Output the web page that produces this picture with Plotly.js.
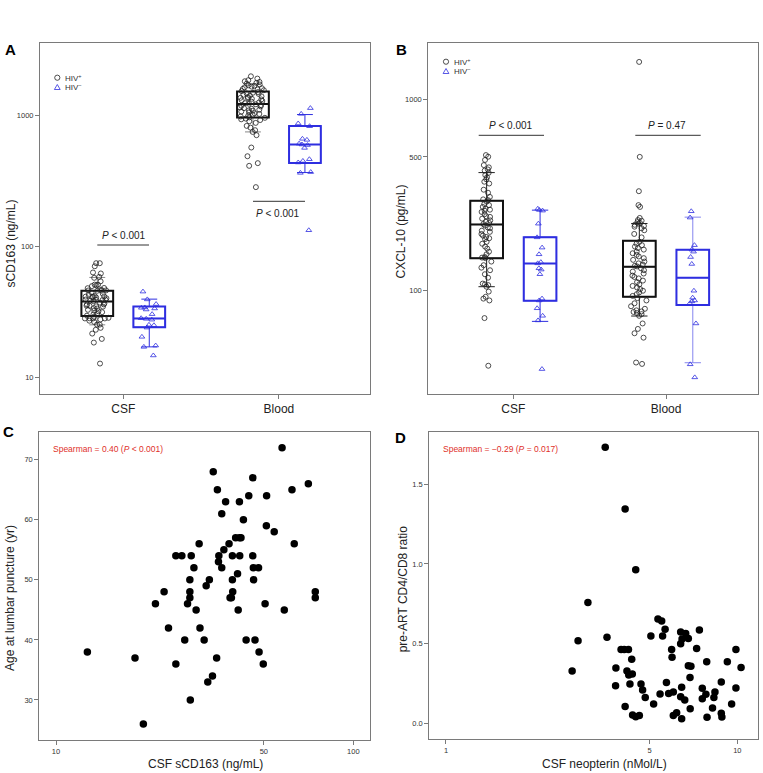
<!DOCTYPE html>
<html><head><meta charset="utf-8">
<script src="https://cdn.plot.ly/plotly-3.0.1.min.js"></script>
<style>body{margin:0;background:#fff}#chart{width:763px;height:773px}</style>
</head><body><div id="chart"></div>
<script>
// ---------- categories ----------
const groups = ['CSF', 'Blood'];

// ---------- Panel C / A: CSF sCD163 (HIV+) and age at lumbar puncture ----------
const csfSCD163 = [12.75, 18.44, 19.67, 21.6, 23.1, 23.9, 25.3, 25.3, 26.5, 27.1, 27.7, 28.2, 28.2, 28.2, 28.3, 28.5, 29.1, 29.6, 30.3, 30.5, 31.5, 32.0, 32.4, 32.8, 33.6, 33.8, 34.7, 34.9, 35.2, 35.3, 36.1, 36.1, 36.7, 37.2, 38.2, 38.5, 38.9, 39.2, 39.2, 39.3, 40.2, 40.8, 41.0, 41.4, 41.4, 41.5, 41.9, 42.7, 43.6, 44.5, 45.9, 45.9, 46.1, 46.2, 46.7, 48.0, 48.2, 49.8, 50.5, 51.0, 51.1, 54.2, 57.6, 58.6, 62.2, 63.3, 70.6, 74.5, 74.5];
const ageAtLP = [38, 37, 26, 46, 48, 42, 36, 54, 54, 40, 46, 50, 48, 47, 30, 54, 52, 45, 56, 42, 40, 49, 33, 50, 34, 68, 37, 65, 53, 54, 52, 61, 55, 63, 56, 47, 47, 54, 50, 48, 57, 51, 45, 63, 57, 54, 57, 60, 40, 64, 67, 54, 52, 50, 40, 52, 38, 36, 46, 59, 64, 58, 72, 45, 65, 56, 66, 48, 47];

// ---------- Panel A: sCD163 (ng/mL) ----------
const aCsfPos = csfSCD163;
const aBloodPos = [1995, 1916, 1862, 1828, 1806, 1776, 1752, 1728, 1704, 1688, 1665, 1642, 1618, 1598, 1584, 1561, 1538,
  1512, 1494, 1476, 1463, 1441, 1418, 1402, 1384, 1366, 1358, 1343, 1327, 1309, 1292, 1276, 1259, 1244, 1231,
  1219, 1202, 1188, 1174, 1153, 1139, 1126, 1108, 1097, 1090, 1073, 1058, 1042, 1029, 1013, 998, 984, 969,
  961, 948, 936, 924, 905, 879, 834, 809, 773, 750, 708, 570, 489, 433, 413, 284];
const aCsfNeg = [45.2, 39.4, 36.3, 34.2, 34.0, 33.6, 33.0, 30.4, 28.3, 28.0, 27.6, 25.2, 25.0, 24.0, 20.4, 17.5, 17.1, 14.7];
const aBloodNeg = [1140, 1030, 870, 829, 664, 652, 610, 601, 595, 566, 464, 450, 438, 370, 365, 133];
// box statistics [CSF, Blood]
const aPosQ1 = [29.4, 965], aPosMed = [38.0, 1228], aPosQ3 = [45.9, 1525], aPosLo = [25.2, 750], aPosHi = [58.0, 1745];
const aNegQ1 = [24.2, 435], aNegMed = [28.2, 601], aNegQ3 = [34.8, 834], aNegLo = [17.1, 367], aNegHi = [39.6, 1018];

// ---------- Panel B: CXCL-10 (pg/mL) ----------
const bCsfPos = [511, 501, 482, 453, 441, 430, 424, 413, 402, 391, 382, 371, 363, 337, 325, 309, 300,
  297, 292, 284, 280, 274, 268, 265, 262, 258, 251, 245, 243, 238, 233, 229, 226, 223,
  219, 214, 212, 206, 203, 198, 194, 191, 188, 186, 180, 176, 170, 166, 160, 155, 150, 149,
  148, 142, 136, 132, 128, 122, 117, 109, 108, 107, 105, 99, 93, 91, 89, 72, 40.6];
const bBloodPos = [1566, 500, 331, 280, 274, 240, 234, 232, 228, 226, 224, 221, 218, 216, 212, 207, 198, 190,
  180, 176, 173, 170, 167, 164, 160, 157, 154, 151, 148, 145, 142, 139, 137, 135, 134,
  131, 128, 126, 123, 120, 118, 116, 113, 111, 108, 106, 104, 102, 100, 98, 96, 94,
  91.5, 89, 86, 83, 80.5, 79, 78, 77.5, 76.5, 75.5, 74, 67.5, 63.2, 60.0, 56.9, 42.2, 41.5];
const bCsfNeg = [268, 264, 262, 224, 190, 168, 155, 141, 139, 131, 129, 122, 91, 89, 81, 74, 70, 39];
const bBloodNeg = [260, 241, 173, 164, 160, 150, 138, 100, 92, 89, 88, 86, 67.5, 41.3, 35.3];
const bPosQ1 = [148, 93.0], bPosMed = [222, 133.4], bPosQ3 = [295, 182.4], bPosLo = [105, 73.8], bPosHi = [414, 224.5];
const bNegQ1 = [88.7, 84.2], bNegMed = [138.8, 116.9], bNegQ3 = [190.5, 163.7], bNegLo = [69.2, 42.1], bNegHi = [263.6, 242.3];

// ---------- Panel D: CSF neopterin vs pre-ART CD4/CD8 ----------
const csfNeopterin = [3.52, 4.12, 4.48, 3.07, 2.84, 2.71, 3.57, 5.34, 5.50, 5.65, 5.05, 5.54, 6.39, 6.65, 6.79, 7.41, 6.46, 6.39, 3.99, 4.09, 4.23, 5.95, 7.25, 9.89, 4.34, 5.97, 7.85, 9.24, 3.83, 4.18, 4.24, 4.36, 6.79, 6.93, 10.3, 9.89, 3.82, 4.28, 4.67, 4.73, 4.83, 5.16, 5.43, 5.71, 5.81, 6.03, 6.44, 6.39, 6.60, 6.88, 6.89, 4.12, 4.37, 4.48, 4.61, 6.03, 6.19, 6.44, 8.81, 7.58, 8.38, 7.80, 8.31, 7.58, 9.56, 8.22, 8.81, 8.85, 7.87];
const cd4cd8Ratio = [1.732, 1.345, 0.964, 0.759, 0.519, 0.328, 0.540, 0.655, 0.642, 0.590, 0.548, 0.548, 0.573, 0.563, 0.533, 0.586, 0.529, 0.500, 0.464, 0.464, 0.464, 0.464, 0.469, 0.464, 0.402, 0.414, 0.387, 0.387, 0.347, 0.328, 0.303, 0.310, 0.362, 0.358, 0.351, 0.222, 0.236, 0.247, 0.247, 0.209, 0.163, 0.121, 0.184, 0.257, 0.188, 0.197, 0.226, 0.167, 0.146, 0.287, 0.092, 0.105, 0.052, 0.042, 0.050, 0.050, 0.067, 0.029, 0.259, 0.220, 0.197, 0.182, 0.163, 0.155, 0.121, 0.096, 0.063, 0.040, 0.038];

// ---------- tick labels ----------
const aTicks = [10, 100, 1000];
const bTicks = [100, 500, 1000];
const cXTicks = [10, 50, 100];
const cYTicks = [30, 40, 50, 60, 70];
const dXTicks = [1, 5, 10];
const dYTicks = [0, 0.5, 1.0, 1.5];

// ---------- styling ----------
const BLUE = '#2e2ee0';
const LIGHTBLUE = '#8585ee';
const FONT = 'Liberation Sans, Arial, sans-serif';
const W = 763, H = 773;
const px = x => x / W, py = y => 1 - y / H;

const traces = [];
function boxPair(xa, ya, pos, q1, med, q3, lo, hi, color, whisk, width) {
  const base = {type: 'box', xaxis: xa, yaxis: ya, x: [pos], q1: [q1], median: [med], q3: [q3],
    width: width, fillcolor: 'rgba(0,0,0,0)', boxpoints: false, showlegend: false, hoverinfo: 'skip'};
  traces.push(Object.assign({}, base, {lowerfence: [lo], upperfence: [hi], whiskerwidth: 0.5, line: {color: whisk, width: 1}}));
  traces.push(Object.assign({}, base, {lowerfence: [q1], upperfence: [q3], whiskerwidth: 0, line: {color: color, width: 2}}));
}
function points(xa, ya, pos, vals, symbol, color, width, jit) {
  traces.push({type: 'box', xaxis: xa, yaxis: ya, x0: pos, y: vals, width: width, boxpoints: 'all',
    jitter: jit, pointpos: 0, line: {color: 'rgba(0,0,0,0)', width: 0}, fillcolor: 'rgba(0,0,0,0)',
    marker: {symbol: symbol, color: color, size: 5, line: {width: 0.8, color: color}},
    showlegend: false, hoveron: 'points'});
}

// Panel A
const offA = 0.167, widA = 0.204;
const aPosPts = [aCsfPos, aBloodPos], aNegPts = [aCsfNeg, aBloodNeg];
groups.forEach((g, i) => {
  boxPair('x', 'y', i - offA, aPosQ1[i], aPosMed[i], aPosQ3[i], aPosLo[i], aPosHi[i], '#111', '#888', widA);
  boxPair('x', 'y', i + offA, aNegQ1[i], aNegMed[i], aNegQ3[i], aNegLo[i], aNegHi[i], BLUE, BLUE, widA);
  points('x', 'y', i - offA, aPosPts[i], 'circle-open', '#222', widA, 0.9);
  points('x', 'y', i + offA, aNegPts[i], 'triangle-up-open', BLUE, widA, 0.7);
});
// Panel B
const offB = 0.175, widB = 0.214;
const bPosPts = [bCsfPos, bBloodPos], bNegPts = [bCsfNeg, bBloodNeg];
const bNegWhisk = [BLUE, LIGHTBLUE];
const bPosJit = [0.35, 0.55];
groups.forEach((g, i) => {
  boxPair('x2', 'y2', i - offB, bPosQ1[i], bPosMed[i], bPosQ3[i], bPosLo[i], bPosHi[i], '#111', '#222', widB);
  boxPair('x2', 'y2', i + offB, bNegQ1[i], bNegMed[i], bNegQ3[i], bNegLo[i], bNegHi[i], BLUE, bNegWhisk[i], widB);
  points('x2', 'y2', i - offB, bPosPts[i], 'circle-open', '#222', widB, bPosJit[i]);
  points('x2', 'y2', i + offB, bNegPts[i], 'triangle-up-open', BLUE, widB, 0.25);
});
// Panel C & D
traces.push({type: 'scatter', mode: 'markers', xaxis: 'x3', yaxis: 'y3', x: csfSCD163, y: ageAtLP,
  marker: {size: 7.5, color: '#000'}, showlegend: false});
traces.push({type: 'scatter', mode: 'markers', xaxis: 'x4', yaxis: 'y4', x: csfNeopterin, y: cd4cd8Ratio,
  marker: {size: 7.5, color: '#000'}, showlegend: false});

// ---------- axes ----------
const frame = {showline: true, mirror: true, linecolor: '#7a7a7a', linewidth: 1, showgrid: false, zeroline: false,
  ticks: 'outside', ticklen: 4, tickcolor: '#7a7a7a', tickfont: {size: 7.5, color: '#333'}};
const ax = o => Object.assign({}, frame, o);
const cat = {tickvals: groups.map((g, i) => i), ticktext: groups, tickfont: {size: 12, color: '#222'}};

const layout = {
  width: W, height: H, margin: {l: 0, r: 0, t: 0, b: 0},
  paper_bgcolor: '#fff', plot_bgcolor: '#fff', font: {family: FONT, color: '#222'},
  boxmode: 'overlay', showlegend: false,
  xaxis: ax(Object.assign({domain: [px(40), px(370)], range: [-0.535, 1.585], anchor: 'y'}, cat)),
  yaxis: ax({domain: [py(394), py(43.3)], type: 'log', range: [0.873, 3.552], anchor: 'x',
    tickvals: aTicks, ticktext: aTicks.map(String)}),
  xaxis2: ax(Object.assign({domain: [px(428.3), px(758.3)], range: [-0.557, 1.604], anchor: 'y2'}, cat)),
  yaxis2: ax({domain: [py(394), py(43.3)], type: 'log', range: [1.461, 3.292], anchor: 'x2',
    tickvals: bTicks, ticktext: bTicks.map(String)}),
  xaxis3: ax({domain: [px(39.3), px(370)], type: 'log', range: [0.9438, 2.0562], anchor: 'y3',
    tickvals: cXTicks, ticktext: cXTicks.map(String)}),
  yaxis3: ax({domain: [py(740), py(432.3)], range: [23.34, 74.56], anchor: 'x3',
    tickvals: cYTicks, ticktext: cYTicks.map(String)}),
  xaxis4: ax({domain: [px(429.3), px(758.3)], type: 'log', range: [-0.0573, 1.072], anchor: 'y4',
    tickvals: dXTicks, ticktext: dXTicks.map(String)}),
  yaxis4: ax({domain: [py(739.3), py(432.3)], range: [-0.1, 1.826], anchor: 'x4',
    tickvals: dYTicks, ticktext: dYTicks.map(v => v.toFixed(1))}),
  shapes: [
    {type: 'line', xref: 'paper', yref: 'paper', x0: px(97.3), x1: px(149), y0: py(245), y1: py(245), line: {color: '#333', width: 1}},
    {type: 'line', xref: 'paper', yref: 'paper', x0: px(253), x1: px(305), y0: py(201.3), y1: py(201.3), line: {color: '#333', width: 1}},
    {type: 'line', xref: 'paper', yref: 'paper', x0: px(478.7), x1: px(544), y0: py(135.3), y1: py(135.3), line: {color: '#333', width: 1}},
    {type: 'line', xref: 'paper', yref: 'paper', x0: px(635.3), x1: px(700.7), y0: py(135.3), y1: py(135.3), line: {color: '#333', width: 1}}
  ],
  annotations: []
};

function note(text, x, y, o) {
  layout.annotations.push(Object.assign({text: text, xref: 'paper', yref: 'paper', x: px(x), y: py(y),
    showarrow: false, xanchor: 'center', yanchor: 'middle', font: {size: 10, color: '#222', family: FONT}}, o || {}));
}
// panel letters
note('<b>A</b>', 10, 50, {font: {size: 15, color: '#000', family: FONT}});
note('<b>B</b>', 401.5, 50, {font: {size: 15, color: '#000', family: FONT}});
note('<b>C</b>', 8.5, 431, {font: {size: 15, color: '#000', family: FONT}});
note('<b>D</b>', 400, 437, {font: {size: 15, color: '#000', family: FONT}});
// legends (symbol keys drawn as pixel-sized shapes, labels as text)
[[57.3, 77.7, 87.3], [446, 61.7, 71.3]].forEach(([lx, y1, y2]) => {
  layout.shapes.push({type: 'circle', xref: 'paper', yref: 'paper', xsizemode: 'pixel', ysizemode: 'pixel',
    xanchor: px(lx), yanchor: py(y1), x0: -2.6, x1: 2.6, y0: -2.6, y1: 2.6, line: {color: '#222', width: 0.8}});
  layout.shapes.push({type: 'path', xref: 'paper', yref: 'paper', xsizemode: 'pixel', ysizemode: 'pixel',
    xanchor: px(lx), yanchor: py(y2), path: 'M -2.9 -2.2 L 2.9 -2.2 L 0 2.8 Z', line: {color: BLUE, width: 0.8}});
  note('HIV<sup>+</sup>', lx + 6, y1, {xanchor: 'left', font: {size: 8, color: '#333', family: FONT}});
  note('HIV<sup>−</sup>', lx + 6, y2, {xanchor: 'left', font: {size: 8, color: '#333', family: FONT}});
});
// P values
note('<i>P</i> &lt; 0.001', 124, 235.7);
note('<i>P</i> &lt; 0.001', 278.3, 213);
note('<i>P</i> &lt; 0.001', 511.3, 126);
note('<i>P</i> = 0.47', 667.2, 126);
// Spearman
note('Spearman = 0.40 (<i>P</i> &lt; 0.001)', 50.7, 449, {xanchor: 'left', font: {size: 8.5, color: '#e0302a', family: FONT}});
note('Spearman = −0.29 (<i>P</i> = 0.017)', 441, 449, {xanchor: 'left', font: {size: 8.5, color: '#e0302a', family: FONT}});
// axis titles
const tf = {size: 12, color: '#222', family: FONT};
note('sCD163 (ng/mL)', 10.5, 244, {textangle: -90, font: tf});
note('CXCL-10 (pg/mL)', 400, 231.5, {textangle: -90, font: tf});
note('Age at lumbar puncture (yr)', 10, 598, {textangle: -90, font: tf});
note('pre-ART CD4/CD8 ratio', 403.3, 589, {textangle: -90, font: tf});
note('CSF sCD163 (ng/mL)', 205, 763.5, {font: tf});
note('CSF neopterin (nMol/L)', 604, 763.5, {font: tf});

Plotly.newPlot('chart', traces, layout, {displayModeBar: false, staticPlot: true});
</script>
</body></html>
